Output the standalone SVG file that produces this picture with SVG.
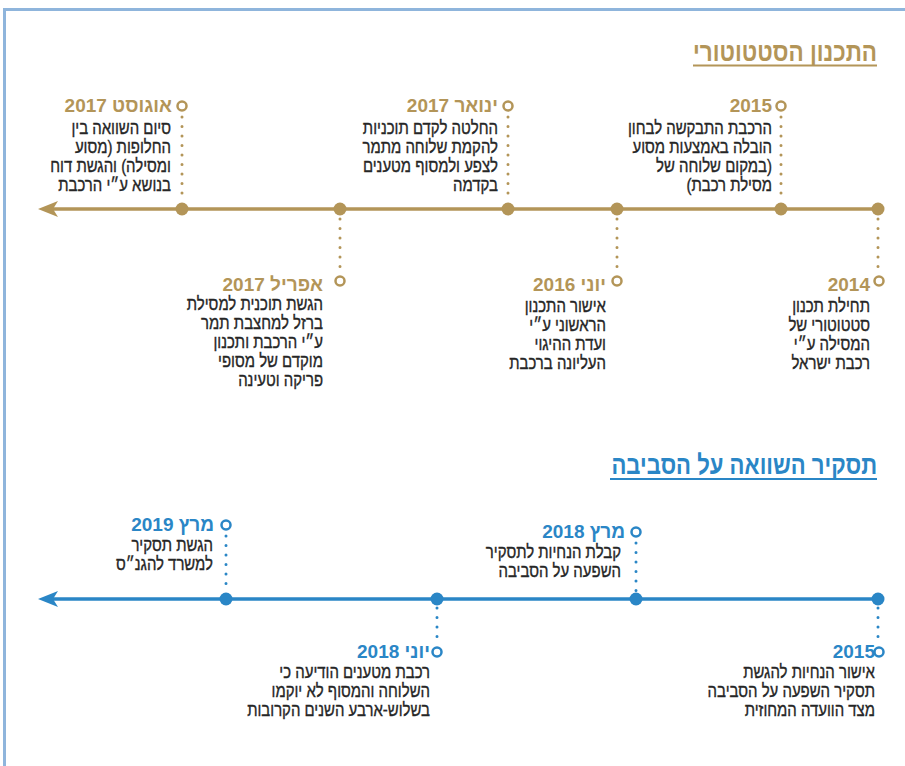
<svg xmlns="http://www.w3.org/2000/svg" width="905" height="766" viewBox="0 0 905 766">
<style>
text{font-family:"Liberation Sans","DejaVu Sans",sans-serif;direction:rtl;text-anchor:start}
.h{font-weight:bold;font-size:27px}
.tt{font-weight:bold;font-size:19px}
.b{font-size:18px;fill:#262626;stroke:#262626;stroke-width:0.35}
.g{fill:#b39558}
.bl{fill:#2a86c6}
.gl{stroke:#b39558}
.bll{stroke:#2a86c6}
.axis{stroke-width:3.5;fill:none}
.dl{stroke-width:3;stroke-linecap:round;stroke-dasharray:0 9.5;fill:none}
.ring{fill:#fff;stroke-width:2.5}
</style>
<rect width="905" height="766" fill="#fff"/>
<path d="M4.5,766 L4.5,9.5 L905,9.5" fill="none" stroke="#8fb5dc" stroke-width="3"/>

<g id="heading-statutory">
<g transform="translate(877,0) scale(0.8,1)">
<text class="h g" x="0" y="61" textLength="230" lengthAdjust="spacingAndGlyphs">התכנון הסטטוטורי</text>
</g>
<line x1="693" y1="65.5" x2="877" y2="65.5" class="gl" stroke-width="2"/>
</g>
<g id="heading-env">
<g transform="translate(877,0) scale(0.8,1)">
<text class="h bl" x="0" y="474" textLength="332" lengthAdjust="spacingAndGlyphs">תסקיר השוואה על הסביבה</text>
</g>
<line x1="610" y1="479" x2="877" y2="479" class="bll" stroke-width="2"/>
</g>

<g id="connectors">
<line class="axis gl" x1="52" y1="209" x2="878" y2="209"/>
<path class="g" d="M38,209 L58,201 L53,209 L58,217 Z"/>
<line class="axis bll" x1="52" y1="599" x2="878" y2="599"/>
<path class="bl" d="M38,599 L58,591 L53,599 L58,607 Z"/>
<line class="dl gl" x1="182" y1="117" x2="182" y2="200"/>
<line class="dl gl" x1="508" y1="117" x2="508" y2="200"/>
<line class="dl gl" x1="781" y1="117" x2="781" y2="200"/>
<line class="dl gl" x1="340" y1="219" x2="340" y2="272"/>
<line class="dl gl" x1="617" y1="219" x2="617" y2="272"/>
<line class="dl gl" x1="878" y1="219" x2="878" y2="272"/>
<line class="dl bll" x1="226" y1="536" x2="226" y2="591"/>
<line class="dl bll" x1="636" y1="543" x2="636" y2="591"/>
<line class="dl bll" x1="437" y1="608" x2="437" y2="644"/>
<line class="dl bll" x1="878" y1="608" x2="878" y2="644"/>
</g>

<g id="dots">
<circle class="g" cx="182" cy="209" r="6.5"/>
<circle class="g" cx="340" cy="209" r="6.5"/>
<circle class="g" cx="508" cy="209" r="6.5"/>
<circle class="g" cx="617" cy="209" r="6.5"/>
<circle class="g" cx="781" cy="209" r="6.5"/>
<circle class="g" cx="878" cy="209" r="6.5"/>
<circle class="bl" cx="226" cy="599" r="6.5"/>
<circle class="bl" cx="437" cy="599" r="6.5"/>
<circle class="bl" cx="636" cy="599" r="6.5"/>
<circle class="bl" cx="878" cy="599" r="6.5"/>
</g>

<g id="ev-aug2017">
<circle class="ring gl" cx="182" cy="106" r="4.5"/>
<text class="tt g" x="172" y="112">אוגוסט 2017</text>
<g transform="translate(171,0) scale(0.83,1)">
<text class="b" x="0" y="134">סיום השוואה בין</text>
<text class="b" x="0" y="153">החלופות (מסוע</text>
<text class="b" x="0" y="172">ומסילה) והגשת דוח</text>
<text class="b" x="0" y="191">בנושא ע״י הרכבת</text>
</g>
</g>

<g id="ev-jan2017">
<circle class="ring gl" cx="508" cy="106" r="4.5"/>
<text class="tt g" x="498" y="112">ינואר 2017</text>
<g transform="translate(498,0) scale(0.83,1)">
<text class="b" x="0" y="134">החלטה לקדם תוכניות</text>
<text class="b" x="0" y="153">להקמת שלוחה מתמר</text>
<text class="b" x="0" y="172">לצפע ולמסוף מטענים</text>
<text class="b" x="0" y="191">בקדמה</text>
</g>
</g>

<g id="ev-2015a">
<circle class="ring gl" cx="781" cy="106" r="4.5"/>
<text class="tt g" x="772" y="112">2015</text>
<g transform="translate(772,0) scale(0.83,1)">
<text class="b" x="0" y="134">הרכבת התבקשה לבחון</text>
<text class="b" x="0" y="153">הובלה באמצעות מסוע</text>
<text class="b" x="0" y="172">(במקום שלוחה של</text>
<text class="b" x="0" y="191">מסילת רכבת)</text>
</g>
</g>

<g id="ev-apr2017">
<circle class="ring gl" cx="340" cy="281" r="4.5"/>
<text class="tt g" x="323" y="291">אפריל 2017</text>
<g transform="translate(323,0) scale(0.83,1)">
<text class="b" x="0" y="310">הגשת תוכנית למסילת</text>
<text class="b" x="0" y="329">ברזל למחצבת תמר</text>
<text class="b" x="0" y="348">ע״י הרכבת ותכנון</text>
<text class="b" x="0" y="367">מוקדם של מסופי</text>
<text class="b" x="0" y="386">פריקה וטעינה</text>
</g>
</g>

<g id="ev-jun2016">
<circle class="ring gl" cx="617" cy="281" r="4.5"/>
<text class="tt g" x="606" y="291">יוני 2016</text>
<g transform="translate(606,0) scale(0.83,1)">
<text class="b" x="0" y="312">אישור התכנון</text>
<text class="b" x="0" y="331">הראשוני ע״י</text>
<text class="b" x="0" y="350">ועדת ההיגוי</text>
<text class="b" x="0" y="369">העליונה ברכבת</text>
</g>
</g>

<g id="ev-2014">
<circle class="ring gl" cx="879" cy="281" r="4.5"/>
<text class="tt g" x="870" y="291">2014</text>
<g transform="translate(870,0) scale(0.83,1)">
<text class="b" x="0" y="312">תחילת תכנון</text>
<text class="b" x="0" y="331">סטטוטורי של</text>
<text class="b" x="0" y="350">המסילה ע״י</text>
<text class="b" x="0" y="369">רכבת ישראל</text>
</g>
</g>

<g id="ev-mar2019">
<circle class="ring bll" cx="226" cy="525" r="4.5"/>
<text class="tt bl" x="214" y="531">מרץ 2019</text>
<g transform="translate(213,0) scale(0.83,1)">
<text class="b" x="0" y="551">הגשת תסקיר</text>
<text class="b" x="0" y="570">למשרד להגנ״ס</text>
</g>
</g>

<g id="ev-mar2018">
<circle class="ring bll" cx="636" cy="532" r="4.5"/>
<text class="tt bl" x="625" y="538">מרץ 2018</text>
<g transform="translate(621,0) scale(0.83,1)">
<text class="b" x="0" y="558">קבלת הנחיות לתסקיר</text>
<text class="b" x="0" y="577">השפעה על הסביבה</text>
</g>
</g>

<g id="ev-jun2018">
<circle class="ring bll" cx="437" cy="652" r="4.5"/>
<text class="tt bl" x="430" y="658">יוני 2018</text>
<g transform="translate(430,0) scale(0.83,1)">
<text class="b" x="0" y="678">רכבת מטענים הודיעה כי</text>
<text class="b" x="0" y="697">השלוחה והמסוף לא יוקמו</text>
<text class="b" x="0" y="716">בשלוש-ארבע השנים הקרובות</text>
</g>
</g>

<g id="ev-2015b">
<circle class="ring bll" cx="879" cy="652" r="4.5"/>
<text class="tt bl" x="875" y="658">2015</text>
<g transform="translate(875,0) scale(0.83,1)">
<text class="b" x="0" y="678">אישור הנחיות להגשת</text>
<text class="b" x="0" y="697">תסקיר השפעה על הסביבה</text>
<text class="b" x="0" y="716">מצד הוועדה המחוזית</text>
</g>
</g>
</svg>
